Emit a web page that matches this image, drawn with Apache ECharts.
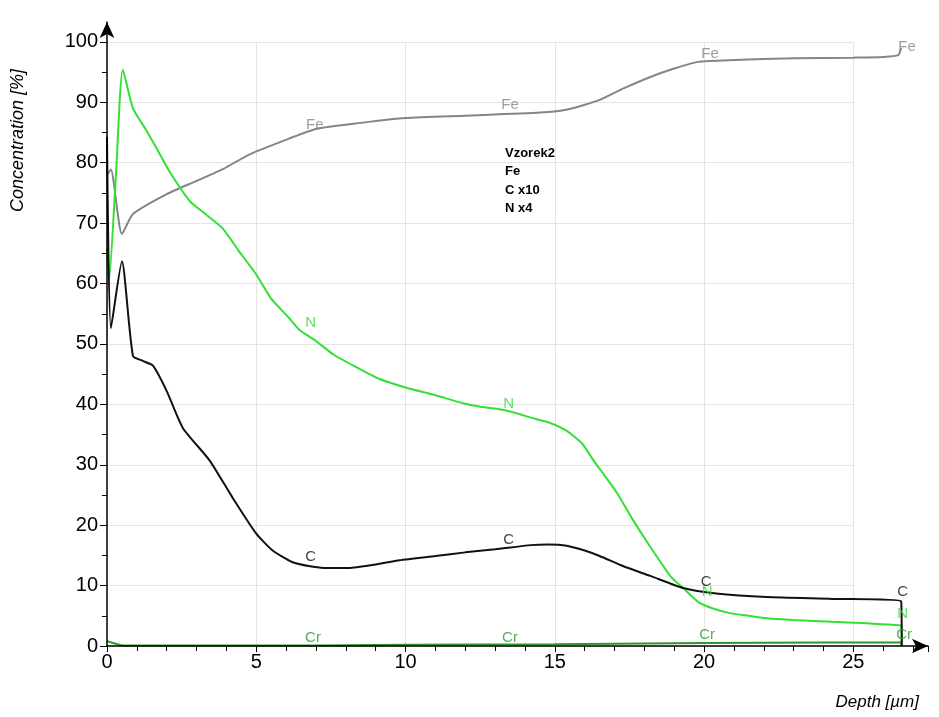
<!DOCTYPE html>
<html>
<head>
<meta charset="utf-8">
<script src="https://cdn.jsdelivr.net/npm/echarts@6/dist/echarts.min.js"></script>
<style>
html,body{margin:0;padding:0;background:#fff;}
#chart{width:939px;height:717px;}
</style>
</head>
<body>
<div id="chart"></div>
<script>
// ---- data ----
var depthFe = [0, 0.13, 0.5, 0.87, 2.0, 3.0, 3.9, 4.78, 6.1, 7.0, 8.5, 10.0, 12.0, 14.5, 15.5, 16.5, 17.3, 18.2, 19.0, 19.8, 21.0, 23.0, 25.0, 26.0, 26.5, 26.6];
var fe      = [78.0, 78.9, 68.2, 71.5, 74.8, 77.0, 79.0, 81.4, 84.0, 85.6, 86.6, 87.4, 87.8, 88.3, 88.9, 90.4, 92.3, 94.2, 95.6, 96.7, 97.0, 97.3, 97.4, 97.5, 97.8, 99.0];

var depthN = [0, 0.07, 0.3, 0.53, 0.87, 1.3, 1.67, 2.1, 2.78, 3.3, 3.88, 4.4, 5.0, 5.5, 6.1, 6.45, 7.0, 7.57, 8.3, 9.13, 10.0, 11.0, 12.0, 12.5, 13.0, 13.6, 14.2, 14.8, 15.4, 15.9, 16.3, 16.7, 17.1, 17.6, 18.2, 18.9, 19.3, 19.8, 20.3, 20.9, 21.5, 22.1, 23.0, 24.3, 25.3, 26.3, 26.6, 26.62];
var n      = [65.8, 60.7, 78.0, 95.4, 89.0, 85.5, 82.3, 78.5, 73.6, 71.5, 69.1, 65.5, 61.5, 57.5, 54.3, 52.3, 50.5, 48.3, 46.3, 44.2, 42.8, 41.5, 40.1, 39.6, 39.3, 38.7, 37.8, 37.0, 35.6, 33.6, 30.7, 28.0, 25.2, 21.0, 16.4, 11.4, 9.6, 7.3, 6.2, 5.4, 5.0, 4.6, 4.3, 4.0, 3.8, 3.5, 3.4, 0];

var depthC = [0, 0.13, 0.5, 0.87, 1.2, 1.54, 2.0, 2.54, 3.44, 4.2, 5.0, 5.55, 6.2, 6.8, 7.36, 8.1, 9.0, 9.8, 11.0, 12.0, 13.0, 14.2, 14.8, 15.4, 16.0, 16.5, 17.3, 18.2, 19.3, 20.4, 22.1, 24.3, 26.6, 26.62];
var c      = [84.3, 52.6, 63.7, 48.0, 47.2, 46.4, 42.2, 36.1, 30.7, 24.6, 18.6, 15.8, 13.9, 13.2, 12.9, 12.9, 13.5, 14.2, 14.9, 15.5, 16.0, 16.7, 16.8, 16.6, 15.8, 14.9, 13.2, 11.6, 9.6, 8.7, 8.1, 7.8, 7.4, 0];

var depthCr = [0, 0.2, 0.5, 3, 7, 10, 15, 20, 24, 26.6, 26.62];
var cr      = [0.8, 0.5, 0.1, 0.1, 0.1, 0.2, 0.3, 0.5, 0.6, 0.6, 0];

// curve-label anchor points [depth, value]
var feLabels = [[6.96, 86.3], [13.5, 89.6], [20.2, 98.0], [26.8, 99.2]];
var nLabels  = [[6.82, 53.5], [13.45, 40.1], [20.1, 8.9], [26.65, 5.3]];
var cLabels  = [[6.82, 14.7], [13.45, 17.5], [20.07, 10.6], [26.65, 8.9]];
var crLabels = [[6.9, 1.3], [13.5, 1.3], [20.1, 1.8], [26.7, 1.8]];

// axis ranges
var xMax = 27.5, yMax = 103.3, xGridMax = 25, yGridMax = 100;

var infoLines = ['Vzorek2', 'Fe', 'C x10', 'N x4'];
var xTitle = 'Depth [\u00b5m]';
var yTitle = 'Concentration [%]';

function pairs(xs, ys) { return xs.map(function (x, i) { return [x, ys[i]]; }); }

var colFe = '#858585', colN = '#33e033', colC = '#111111', colCr = '#2f962f';

function lineSeries(name, xs, ys, col, sm) {
  return { name: name, type: 'line', data: pairs(xs, ys), showSymbol: false, symbol: 'none',
    xAxisIndex: 0, yAxisIndex: 0,
    smooth: sm, lineStyle: { color: col, width: 2 }, animation: false, z: 3 };
}
function labelSeries(name, pts, col) {
  return { name: name + ' label', type: 'scatter', data: pts, symbolSize: 0, animation: false, z: 4,
    xAxisIndex: 0, yAxisIndex: 0,
    label: { show: true, position: 'inside', formatter: name, color: col,
      fontFamily: 'Liberation Sans, Arial, sans-serif', fontSize: 15 } };
}

// main plot box
var L = 107, T = 22, B = 71, R = 11, W = 939, H = 717;
var plotW = W - L - R, plotH = H - T - B;
var grid2Top = T + plotH * (yMax - yGridMax) / yMax;
var grid2Right = W - (L + plotW * xGridMax / xMax);

var chart = echarts.init(document.getElementById('chart'), null, { renderer: 'canvas' });
chart.setOption({
  backgroundColor: '#ffffff',
  animation: false,
  grid: [
    { left: L, right: R, top: T, bottom: B, containLabel: false },
    { left: L, right: grid2Right, top: grid2Top, bottom: B, containLabel: false }
  ],
  xAxis: [{
    type: 'value', min: 0, max: xMax, interval: 5, gridIndex: 0, z: 5,
    axisLine: { show: true, onZero: false, lineStyle: { color: '#000', width: 1.5 },
      symbol: ['none', 'arrow'], symbolSize: [11, 16] },
    axisTick: { show: true, inside: false, length: 6, lineStyle: { color: '#000' } },
    minorTick: { show: true, splitNumber: 5, length: 5, lineStyle: { color: '#000' } },
    splitLine: { show: false },
    axisLabel: { color: '#000', fontSize: 20, fontFamily: 'Liberation Sans, Arial, sans-serif', margin: 6,
      showMaxLabel: false,
      formatter: function (v) { return (Math.abs(v % 5) < 1e-6) ? String(v) : ''; } }
  }, {
    type: 'value', min: 0, max: xGridMax, interval: 5, gridIndex: 1, z: 0,
    axisLine: { show: false }, axisTick: { show: false }, axisLabel: { show: false },
    splitLine: { show: true, lineStyle: { color: '#e4e4e4', width: 1 } }
  }],
  yAxis: [{
    type: 'value', min: 0, max: yMax, interval: 10, gridIndex: 0, z: 5,
    axisLine: { show: true, onZero: false, lineStyle: { color: '#000', width: 1.5 },
      symbol: ['none', 'arrow'], symbolSize: [11, 16] },
    axisTick: { show: false },
    splitLine: { show: false },
    axisLabel: { color: '#000', fontSize: 20, fontFamily: 'Liberation Sans, Arial, sans-serif', margin: 9,
      showMaxLabel: false,
      formatter: function (v) { return (Math.abs(v % 10) < 1e-6) ? String(v) : ''; } }
  }, {
    type: 'value', min: 0, max: yGridMax, interval: 10, gridIndex: 1, z: 0,
    axisLine: { show: false, onZero: false },
    axisTick: { show: true, inside: false, length: 7, lineStyle: { color: '#000' } },
    minorTick: { show: true, splitNumber: 2, length: 5, lineStyle: { color: '#000' } },
    axisLabel: { show: false },
    splitLine: { show: true, lineStyle: { color: '#e4e4e4', width: 1 } }
  }],
  graphic: [
    { type: 'text', left: 505, top: 144, z: 10,
      style: { text: infoLines.join('\n'), fill: '#000', fontSize: 13, fontWeight: 'bold', lineHeight: 18.5,
        fontFamily: 'Liberation Sans Narrow, Liberation Sans, Arial, sans-serif' } },
    { type: 'text', right: 20, top: 694, z: 10,
      style: { text: xTitle, fill: '#000', fontSize: 17, fontStyle: 'italic',
        fontFamily: 'Liberation Sans, Arial, sans-serif' } },
    { type: 'text', x: 9, y: 212, rotation: Math.PI / 2, z: 10,
      style: { text: yTitle, fill: '#000', fontSize: 18, fontStyle: 'italic',
        fontFamily: 'Liberation Sans, Arial, sans-serif' } }
  ],
  series: [
    lineSeries('Cr', depthCr, cr, colCr, false),
    lineSeries('Fe', depthFe, fe, colFe, 0.2),
    lineSeries('N', depthN, n, colN, 0.2),
    lineSeries('C', depthC, c, colC, 0.2),
    labelSeries('Fe', feLabels, colFe),
    labelSeries('N', nLabels, colN),
    labelSeries('C', cLabels, colC),
    labelSeries('Cr', crLabels, colCr),
    { type: 'line', data: [], xAxisIndex: 1, yAxisIndex: 1, silent: true }
  ]
});
</script>
</body>
</html>
